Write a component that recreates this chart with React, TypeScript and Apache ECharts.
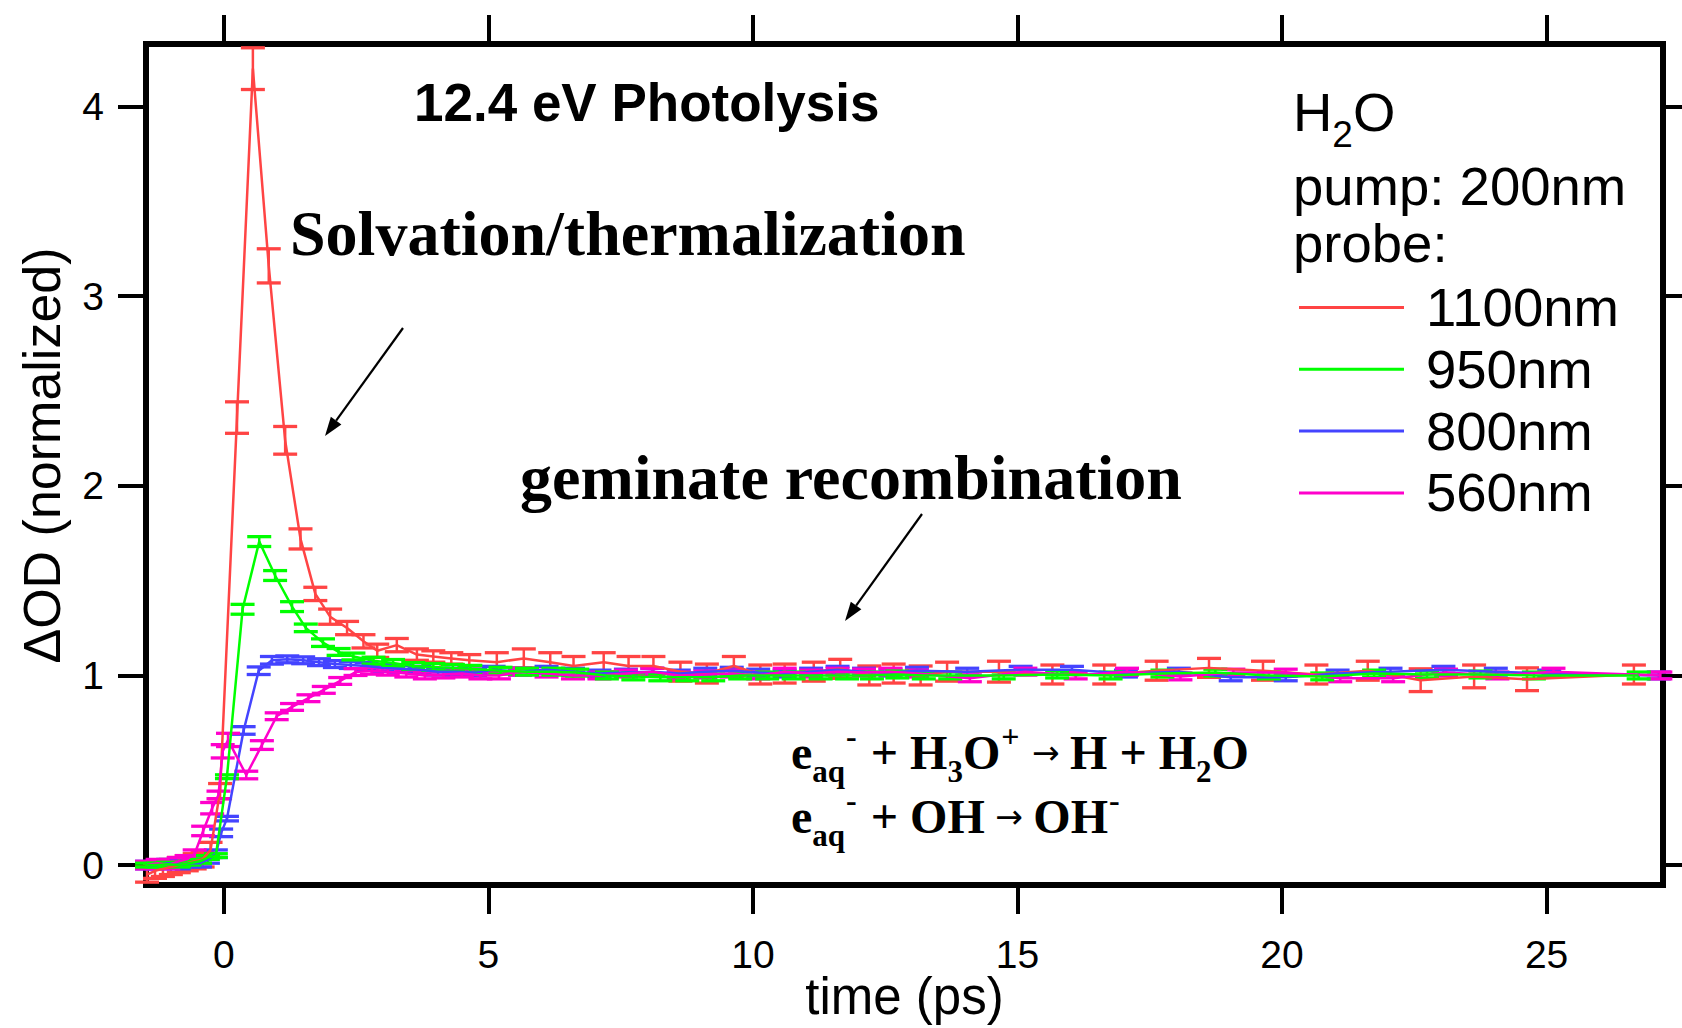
import React, { useEffect, useRef } from "react";
import * as echarts from "echarts";

// Axis ticks
const xTicks = [0, 5, 10, 15, 20, 25];
const yTicks = [0, 1, 2, 3, 4];

// Probe wavelengths and their trace colours
const probeNames = ["1100nm", "950nm", "800nm", "560nm"];
const probeColors = ["#ff4444", "#00ff00", "#4444ff", "#ff00cc"];

// 1100 nm probe
const t1100 = [
  -1.45, -1.3, -1.15, -1.0, -0.85, -0.7, -0.55, -0.4, -0.25, -0.07,
  0.25, 0.55, 0.85, 1.16, 1.45, 1.73, 2.01, 2.33, 2.64, 2.9,
  3.27, 3.65, 3.96, 4.3, 4.64, 5.16, 5.67, 6.17, 6.61, 7.18,
  7.65, 8.12, 8.63, 9.13, 9.64, 10.14, 10.6, 11.15, 11.65, 12.2,
  12.66, 13.17, 13.67, 14.65, 15.66, 16.64, 17.63, 18.62, 19.64, 20.65,
  21.62, 22.62, 23.63, 24.63, 26.65,
];
const y1100 = [
  -0.05, -0.03, -0.02, -0.01, 0.0, 0.01, 0.02, 0.03, 0.08, 0.39,
  2.36, 4.2, 3.16, 2.24, 1.72, 1.43, 1.31, 1.25, 1.18, 1.13,
  1.16, 1.11, 1.1, 1.09, 1.08, 1.07, 1.09, 1.07, 1.05, 1.07,
  1.05, 1.05, 1.02, 1.01, 1.05, 1.005, 1.01, 1.02, 1.035, 1.0,
  1.01, 1.0, 1.02, 1.02, 1.005, 1.005, 1.025, 1.04, 1.025, 1.005,
  1.025, 0.975, 0.995, 0.98, 1.005,
];
const e1100 = [
  0.04, 0.04, 0.04, 0.04, 0.04, 0.04, 0.04, 0.04, 0.04, 0.04,
  0.083, 0.11, 0.09, 0.073, 0.053, 0.035, 0.04, 0.035, 0.035, 0.035,
  0.035, 0.03, 0.03, 0.03, 0.03, 0.05, 0.05, 0.05, 0.05, 0.05,
  0.05, 0.05, 0.05, 0.05, 0.05, 0.05, 0.05, 0.05, 0.05, 0.05,
  0.05, 0.05, 0.05, 0.055, 0.05, 0.05, 0.05, 0.05, 0.05, 0.05,
  0.05, 0.06, 0.06, 0.06, 0.05,
];

// 950 nm probe
const t950 = [
  -1.45, -1.25, -1.05, -0.85, -0.65, -0.45, -0.3, -0.15,
  0.06, 0.355, 0.67, 0.97, 1.29, 1.55, 1.875, 2.17, 2.45, 2.83,
  3.2, 3.58, 3.96, 4.33, 4.66, 5.23, 5.73, 6.23, 6.68, 7.24,
  7.74, 8.25, 8.76, 9.25, 9.76, 10.27, 10.77, 11.28, 11.78, 12.25,
  12.73, 13.23, 13.73, 14.74, 15.75, 16.76, 17.74, 18.74, 19.75, 20.76,
  21.74, 22.74, 23.75, 24.76, 26.74,
];
const y950 = [
  0.0, 0.0, 0.005, 0.0, 0.01, 0.02, 0.04, 0.05,
  0.466, 1.349, 1.706, 1.527, 1.363, 1.251, 1.173, 1.124, 1.1, 1.078,
  1.066, 1.05, 1.045, 1.04, 1.035, 1.025, 1.02, 1.02, 1.015, 1.0,
  0.995, 0.99, 0.99, 0.99, 1.0, 1.0, 1.0, 1.0, 1.0, 1.0,
  1.005, 1.0, 1.0, 1.0, 1.005, 1.0, 1.01, 1.015, 1.0, 0.995,
  1.01, 1.005, 1.005, 1.0, 1.0,
];
const e950 = [
  0.01, 0.01, 0.01, 0.01, 0.01, 0.01, 0.01, 0.01,
  0.01, 0.026, 0.026, 0.026, 0.026, 0.02, 0.02, 0.018, 0.018, 0.018,
  0.018, 0.018, 0.018, 0.018, 0.018, 0.018, 0.018, 0.018, 0.018, 0.018,
  0.018, 0.018, 0.018, 0.018, 0.018, 0.018, 0.018, 0.018, 0.018, 0.018,
  0.018, 0.018, 0.018, 0.018, 0.018, 0.018, 0.018, 0.018, 0.018, 0.018,
  0.018, 0.018, 0.018, 0.018, 0.018,
];

// 800 nm probe
const t800 = [
  -1.45, -1.25, -1.05, -0.85, -0.65, -0.45, -0.3, -0.15, -0.05,
  0.06, 0.375, 0.66, 0.91, 1.2, 1.5, 1.8, 2.1, 2.4, 2.7,
  3.0, 3.35, 3.7, 4.05, 4.4, 4.75, 5.1, 5.6, 6.1, 6.6,
  7.1, 7.6, 8.1, 8.6, 9.1, 9.6, 10.1, 10.6, 11.1, 11.6,
  12.1, 12.6, 13.1, 14.05, 15.06, 16.03, 17.05, 18.05, 19.03, 20.07,
  21.05, 22.05, 23.05, 24.04, 25.05, 27.12,
];
const y800 = [
  0.0, 0.0, 0.01, 0.0, 0.01, 0.01, 0.03, 0.06, 0.17,
  0.245, 0.71, 1.025, 1.08, 1.085, 1.08, 1.07, 1.06, 1.055, 1.05,
  1.04, 1.035, 1.03, 1.02, 1.02, 1.015, 1.03, 1.02, 1.03, 1.02,
  1.01, 1.015, 1.02, 1.01, 1.02, 1.025, 1.015, 1.01, 1.02, 1.03,
  1.02, 1.015, 1.025, 1.02, 1.03, 1.03, 1.01, 1.02, 0.99, 0.99,
  1.01, 1.02, 1.03, 1.02, 1.01, 1.0,
];
const e800 = [
  0.02, 0.02, 0.02, 0.02, 0.02, 0.02, 0.02, 0.02, 0.02,
  0.012, 0.02, 0.02, 0.02, 0.018, 0.018, 0.018, 0.018, 0.018, 0.018,
  0.018, 0.018, 0.018, 0.018, 0.018, 0.018, 0.018, 0.018, 0.018, 0.018,
  0.018, 0.018, 0.018, 0.018, 0.018, 0.018, 0.018, 0.018, 0.018, 0.018,
  0.018, 0.018, 0.018, 0.018, 0.018, 0.018, 0.018, 0.018, 0.018, 0.018,
  0.018, 0.018, 0.018, 0.018, 0.018, 0.018,
];

// 560 nm probe
const t560 = [
  -1.45, -1.25, -1.05, -0.85, -0.7, -0.55, -0.39, -0.22, -0.1, -0.02,
  0.08, 0.425, 0.72, 1.0, 1.29, 1.6, 1.89, 2.2, 2.49, 2.8,
  3.1, 3.45, 3.8, 4.15, 4.5, 4.85, 5.2, 5.6, 6.1, 6.6,
  7.1, 7.6, 8.1, 8.6, 9.1, 9.6, 10.1, 10.6, 11.1, 11.6,
  12.1, 12.6, 13.1, 14.1, 15.15, 16.1, 17.07, 18.08, 19.08, 20.07,
  21.1, 22.1, 23.1, 24.07, 25.13, 27.15,
];
const y560 = [
  0.0, 0.01, 0.0, 0.02, 0.03, 0.06, 0.18, 0.3, 0.37, 0.6,
  0.66, 0.475, 0.633, 0.785, 0.834, 0.88, 0.924, 0.971, 1.018, 1.025,
  1.02, 1.01, 1.0, 1.005, 1.01, 1.0, 1.0, 1.02, 1.01, 1.0,
  1.0, 1.01, 1.02, 1.0, 1.005, 1.01, 1.0, 1.02, 1.01, 1.02,
  1.015, 1.02, 1.01, 0.985, 1.02, 1.0, 1.02, 0.995, 1.015, 1.015,
  0.985, 0.985, 1.015, 1.0, 1.02, 1.0,
];
const e560 = [
  0.02, 0.02, 0.02, 0.02, 0.02, 0.02, 0.025, 0.03, 0.02, 0.035,
  0.035, 0.02, 0.023, 0.018, 0.018, 0.018, 0.018, 0.018, 0.018, 0.018,
  0.018, 0.018, 0.018, 0.018, 0.018, 0.018, 0.018, 0.018, 0.018, 0.018,
  0.018, 0.018, 0.018, 0.018, 0.018, 0.018, 0.018, 0.018, 0.018, 0.018,
  0.018, 0.018, 0.018, 0.018, 0.018, 0.018, 0.018, 0.018, 0.018, 0.018,
  0.018, 0.018, 0.018, 0.018, 0.018, 0.018,
];

const traces = [
  { name: probeNames[0], color: probeColors[0], t: t1100, y: y1100, e: e1100 },
  { name: probeNames[2], color: probeColors[2], t: t800, y: y800, e: e800 },
  { name: probeNames[3], color: probeColors[3], t: t560, y: y560, e: e560 },
  { name: probeNames[1], color: probeColors[1], t: t950, y: y950, e: e950 },
];

const SANS = "'Liberation Sans', Arial, Helvetica, sans-serif";
const SERIF = "'Liberation Serif', 'Times New Roman', serif";

function errorBars(color: string) {
  return (_params: any, api: any) => {
    const x = api.value(0);
    const y = api.value(1);
    const e = api.value(2);
    const hi = api.coord([x, y + e]);
    const lo = api.coord([x, y - e]);
    const cap = 12;
    return {
      type: "group",
      children: [
        { type: "line", shape: { x1: hi[0], y1: hi[1], x2: lo[0], y2: lo[1] }, style: { stroke: color, lineWidth: 2.5 } },
        { type: "line", shape: { x1: hi[0] - cap, y1: hi[1], x2: hi[0] + cap, y2: hi[1] }, style: { stroke: color, lineWidth: 3.3 } },
        { type: "line", shape: { x1: lo[0] - cap, y1: lo[1], x2: lo[0] + cap, y2: lo[1] }, style: { stroke: color, lineWidth: 3.3 } },
      ],
    };
  };
}

function arrow(x1: number, y1: number, x2: number, y2: number) {
  const dx = x2 - x1;
  const dy = y2 - y1;
  const len = Math.hypot(dx, dy);
  const ux = dx / len;
  const uy = dy / len;
  const head = 19;
  const half = 6.5;
  const bx = x2 - ux * head;
  const by = y2 - uy * head;
  return [
    { type: "line", shape: { x1, y1, x2: bx, y2: by }, style: { stroke: "#000", lineWidth: 2.2 } },
    {
      type: "polygon",
      shape: { points: [[x2, y2], [bx - uy * half, by + ux * half], [bx + uy * half, by - ux * half]] },
      style: { fill: "#000" },
    },
  ];
}

// Rich-text styles for the reaction equations
const eqRich = {
  m: { fontSize: 48, fontWeight: "bold", fontFamily: SERIF, fill: "#000", lineHeight: 48 },
  s: { fontSize: 31, fontWeight: "bold", fontFamily: SERIF, fill: "#000", height: 10, verticalAlign: "bottom" },
  p: { fontSize: 32, fontWeight: "bold", fontFamily: SERIF, fill: "#000", height: 16, verticalAlign: "top", padding: [0, 2, 0, 1] },
  a: { fontSize: 33, fontFamily: "'DejaVu Sans', sans-serif", fill: "#000", lineHeight: 48 },
};

const LEG_FONT = 54.5;
const axisTickStyle = { color: "#000", width: 4 };

export default function App() {
  const ref = useRef<HTMLDivElement>(null);

  useEffect(() => {
    document.body.style.margin = "0";
    const chart = echarts.init(ref.current!, null, { renderer: "svg" });

    const series: any[] = [];
    traces.forEach((tr) => {
      const pts = tr.t.map((t, i) => [t, tr.y[i], tr.e[i]]);
      series.push({
        name: tr.name,
        type: "line",
        data: pts.map((p) => [p[0], p[1]]),
        symbol: "none",
        showSymbol: false,
        clip: false,
        color: tr.color,
        lineStyle: { color: tr.color, width: 2.5 },
      });
      series.push({
        name: tr.name + " err",
        type: "custom",
        data: pts,
        encode: { x: 0, y: 1 },
        renderItem: errorBars(tr.color),
        clip: false,
      });
    });

    const xBase = {
      type: "value",
      min: -1.47,
      max: 27.2,
      splitLine: { show: false },
      axisLine: { show: false, onZero: false },
    };
    const yBase = {
      type: "value",
      min: -0.105,
      max: 4.33,
      splitLine: { show: false },
      axisLine: { show: false, onZero: false },
    };

    chart.setOption({
      animation: false,
      backgroundColor: "#fff",
      grid: {
        left: 146,
        top: 44,
        right: 19,
        bottom: 143,
        containLabel: false,
        outerBoundsMode: "none",
        show: true,
        borderColor: "#000",
        borderWidth: 6,
        backgroundColor: "transparent",
      },
      xAxis: [
        {
          ...xBase,
          position: "bottom",
          axisTick: { show: true, inside: false, length: 29, lineStyle: axisTickStyle, customValues: xTicks },
          axisLabel: {
            customValues: xTicks,
            margin: 50,
            fontSize: 39,
            fontFamily: SANS,
            color: "#000",
            lineHeight: 39,
          },
          name: "time (ps)",
          nameLocation: "middle",
          nameGap: 86,
          nameMoveOverlap: false,
          nameTextStyle: { fontSize: 51, fontFamily: SANS, color: "#000", lineHeight: 51 },
        },
        {
          ...xBase,
          position: "top",
          axisTick: { show: true, inside: false, length: 29, lineStyle: axisTickStyle, customValues: xTicks },
          axisLabel: { show: false },
        },
      ],
      yAxis: [
        {
          ...yBase,
          position: "left",
          axisTick: { show: true, inside: false, length: 28, lineStyle: axisTickStyle, customValues: yTicks },
          axisLabel: {
            customValues: yTicks,
            margin: 42,
            fontSize: 39,
            fontFamily: SANS,
            color: "#000",
          },
          name: "ΔOD (normalized)",
          nameLocation: "middle",
          nameGap: 78,
          nameTextStyle: { fontSize: 52, fontFamily: SANS, color: "#000", lineHeight: 52, padding: [0, 0, 0, 18] },
        },
        {
          ...yBase,
          position: "right",
          axisTick: { show: true, inside: false, length: 28, lineStyle: axisTickStyle, customValues: yTicks },
          axisLabel: { show: false },
        },
      ],
      legend: {
        data: probeNames,
        orient: "vertical",
        left: 1299,
        top: 280,
        padding: 0,
        icon: "rect",
        itemWidth: 105,
        itemHeight: 3,
        itemGap: 6.8,
        selectedMode: false,
        textStyle: {
          fontSize: LEG_FONT,
          fontFamily: SANS,
          color: "#000",
          lineHeight: LEG_FONT,
          padding: [0, 0, 0, 17],
        },
      },
      series,
      graphic: [
        {
          type: "text",
          x: 414,
          y: 102,
          style: { text: "12.4 eV Photolysis", fontSize: 53, fontWeight: "bold", fontFamily: SANS, fill: "#000", verticalAlign: "middle" },
        },
        {
          type: "text",
          x: 290,
          y: 233,
          style: { text: "Solvation/thermalization", fontSize: 64, fontWeight: "bold", fontFamily: SERIF, fill: "#000", verticalAlign: "middle" },
        },
        {
          type: "text",
          x: 520,
          y: 477,
          style: { text: "geminate recombination", fontSize: 64, fontWeight: "bold", fontFamily: SERIF, fill: "#000", verticalAlign: "middle" },
        },
        ...arrow(403, 328, 325, 436),
        ...arrow(922, 514, 845, 621),
        {
          type: "text",
          x: 1293,
          y: 112,
          style: {
            text: "{m|H}{s|2}{m|O}",
            verticalAlign: "middle",
            rich: {
              m: { fontSize: LEG_FONT, fontFamily: SANS, fill: "#000", lineHeight: LEG_FONT },
              s: { fontSize: 37, fontFamily: SANS, fill: "#000", height: 9, verticalAlign: "bottom" },
            },
          },
        },
        {
          type: "text",
          x: 1293,
          y: 186.8,
          style: { text: "pump: 200nm", fontSize: LEG_FONT, fontFamily: SANS, fill: "#000", verticalAlign: "middle" },
        },
        {
          type: "text",
          x: 1293,
          y: 243.8,
          style: { text: "probe:", fontSize: LEG_FONT, fontFamily: SANS, fill: "#000", verticalAlign: "middle" },
        },
        {
          type: "text",
          x: 791,
          y: 752,
          style: {
            text: "{m|e}{s|aq}{p|-}{m| + H}{s|3}{m|O}{p|+}{a| → }{m|H + H}{s|2}{m|O}",
            verticalAlign: "middle",
            rich: eqRich,
          },
        },
        {
          type: "text",
          x: 791,
          y: 816,
          style: {
            text: "{m|e}{s|aq}{p|-}{m| + OH}{a| → }{m|OH}{p|-}",
            verticalAlign: "middle",
            rich: eqRich,
          },
        },
      ],
    });

    return () => chart.dispose();
  }, []);

  return <div ref={ref} style={{ width: 1682, height: 1028 }} />;
}
